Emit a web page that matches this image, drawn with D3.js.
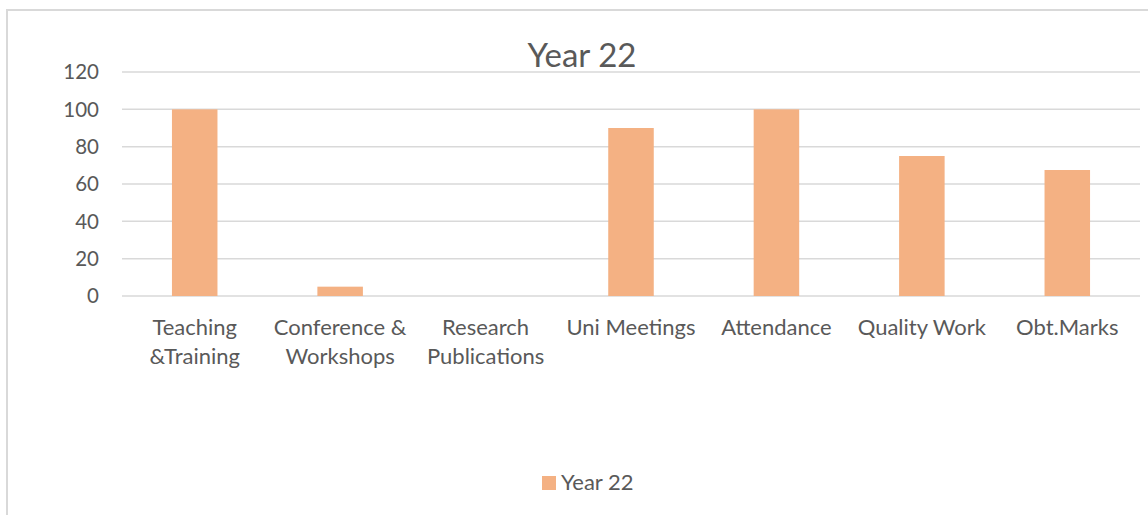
<!DOCTYPE html>
<html>
<head>
<meta charset="utf-8">
<script src="https://cdn.jsdelivr.net/npm/d3@7"></script>
<style>
  body { margin: 0; background: #fff; }
  text { font-family: Lato, "Open Sans", sans-serif; fill: #595959; }
</style>
</head>
<body>
<svg id="chart" width="1148" height="515"></svg>
<script>
const categories = [
  ["Teaching", "&Training"],
  ["Conference &", "Workshops"],
  ["Research", "Publications"],
  ["Uni Meetings"],
  ["Attendance"],
  ["Quality Work"],
  ["Obt.Marks"]
];
const values = [100, 5, 0, 90, 100, 75, 67.5];
const yTicks = [0, 20, 40, 60, 80, 100, 120];
const seriesName = "Year 22";

const svg = d3.select("#chart");
const width = +svg.attr("width");
const height = +svg.attr("height");

// chart frame
svg.append("rect")
  .attr("x", 7).attr("y", 10)
  .attr("width", width + 10).attr("height", height + 10)
  .attr("fill", "none")
  .attr("stroke", "#d9d9d9")
  .attr("stroke-width", 2);

const plot = { left: 122, right: 1140, top: 72, bottom: 296 };

const x = d3.scaleBand()
  .domain(d3.range(categories.length))
  .range([plot.left, plot.right])
  .paddingInner(0.687)
  .paddingOuter(0.3435);

const y = d3.scaleLinear().domain([0, 120]).range([plot.bottom, plot.top]);

// gridlines
svg.append("g")
  .selectAll("line")
  .data(yTicks)
  .enter()
  .append("line")
  .attr("x1", plot.left)
  .attr("x2", plot.right)
  .attr("y1", (d) => y(d))
  .attr("y2", (d) => y(d))
  .attr("stroke", "#d9d9d9")
  .attr("stroke-width", 1.5);

// y labels
svg.append("g")
  .selectAll("text")
  .data(yTicks)
  .enter()
  .append("text")
  .attr("x", 99)
  .attr("y", (d) => y(d))
  .attr("dy", "0.36em")
  .attr("text-anchor", "end")
  .attr("font-size", 20.5)
  .text((d) => d);

// bars
svg.append("g")
  .selectAll("rect")
  .data(values)
  .enter()
  .append("rect")
  .attr("x", (d, i) => x(i))
  .attr("width", x.bandwidth())
  .attr("y", (d) => y(d))
  .attr("height", (d) => y(0) - y(d))
  .attr("fill", "#f4b183");

// category labels
const cat = svg.append("g")
  .selectAll("text")
  .data(categories)
  .enter()
  .append("text")
  .attr("text-anchor", "middle")
  .attr("font-size", 22)
  .attr("transform", (d, i) => `translate(${x(i) + x.bandwidth() / 2},335)`);

cat.selectAll("tspan")
  .data((d) => d)
  .enter()
  .append("tspan")
  .attr("x", 0)
  .attr("y", (d, i) => i * 29)
  .text((d) => d);

// title
svg.append("text")
  .attr("x", 582)
  .attr("y", 67)
  .attr("text-anchor", "middle")
  .attr("font-size", 33)
  .text(seriesName);

// legend
svg.append("rect")
  .attr("x", 542).attr("y", 476)
  .attr("width", 14).attr("height", 14)
  .attr("fill", "#f4b183");

svg.append("text")
  .attr("x", 561)
  .attr("y", 490)
  .attr("font-size", 22)
  .text(seriesName);
</script>
</body>
</html>
